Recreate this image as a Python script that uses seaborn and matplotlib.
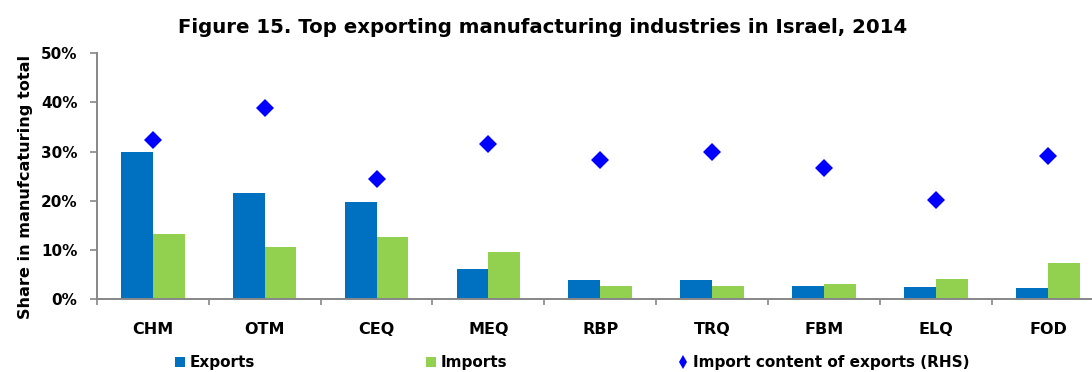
import numpy as np
import pandas as pd
import matplotlib
matplotlib.use("Agg")
import matplotlib.pyplot as plt
from matplotlib.patches import Patch
from matplotlib.lines import Line2D
from matplotlib.ticker import PercentFormatter, FixedLocator
import seaborn as sns

categories = ["CHM", "OTM", "CEQ", "MEQ", "RBP", "TRQ", "FBM", "ELQ", "FOD"]
exports = [29.9, 21.5, 19.7, 6.1, 3.9, 3.9, 2.8, 2.5, 2.3]
imports = [13.2, 10.7, 12.7, 9.7, 2.6, 2.6, 3.2, 4.1, 7.3]
import_content = [32.3, 38.9, 24.4, 31.5, 28.3, 30.0, 26.6, 20.2, 29.1]
series_names = ["Exports", "Imports", "Import content of exports (RHS)"]
yticks = [0, 10, 20, 30, 40, 50]

sns.set_theme(style="white")
plt.rcParams["font.family"] = ["DejaVu Sans"]
plt.rcParams["text.color"] = "black"

c_exp = "#0070C0"
c_imp = "#92D050"
c_dia = "#0000FF"
gray = "#878787"

bars = pd.DataFrame({
    "industry": categories * 2,
    "series": [series_names[0]] * len(categories) + [series_names[1]] * len(categories),
    "value": exports + imports,
})
points = pd.DataFrame({"industry": categories, "value": import_content})

fig = plt.figure(figsize=(10.92, 3.72), dpi=100)
# axes: left 96.7px, right ~1104px, top 53px, bottom 299.3px
ax = fig.add_axes([96.7 / 1092, 1 - 299.3 / 372, (1104.0 - 96.7) / 1092, (299.3 - 53) / 372])

sns.barplot(data=bars, x="industry", y="value", hue="series", order=categories,
            hue_order=series_names[:2], palette=[c_exp, c_imp], width=0.57,
            saturation=1, errorbar=None, ax=ax, legend=False, linewidth=0)
sns.pointplot(data=points, x="industry", y="value", order=categories,
              color=c_dia, markers="D", linestyles="none", errorbar=None,
              markersize=9, markeredgewidth=0, ax=ax)

ax.set_xlim(-0.5, len(categories) - 0.5)
ax.set_ylim(0, 50)
ax.yaxis.set_major_locator(FixedLocator(yticks))
ax.yaxis.set_major_formatter(PercentFormatter(decimals=0))

for s in ["top", "right"]:
    ax.spines[s].set_visible(False)
for s in ["left", "bottom"]:
    ax.spines[s].set_color(gray)
    ax.spines[s].set_linewidth(1.4)

ax.tick_params(axis="y", which="major", direction="out", length=5.3, width=1.2,
               color=gray, left=True, labelsize=11, pad=8.5, labelcolor="black")
ax.tick_params(axis="x", which="major", length=0, labelsize=11.5, pad=16, labelcolor="black")
ax.set_xticks(np.arange(-0.5, len(categories), 1.0), minor=True)
ax.tick_params(axis="x", which="minor", direction="out", length=4.5, width=1.2,
               color=gray, bottom=True)
for lab in ax.get_xticklabels() + ax.get_yticklabels():
    lab.set_fontweight("bold")

ax.set_xlabel("")
ax.set_ylabel("Share in manufcaturing total", fontsize=11.6, fontweight="bold", color="black")
ax.yaxis.set_label_coords(-0.0635, 0.458)

fig.text(543 / 1092, 1 - 33 / 372, "Figure 15. Top exporting manufacturing industries in Israel, 2014",
         ha="center", va="baseline", fontsize=14.2, fontweight="bold", color="black")

handles = [
    Patch(facecolor=c_exp, edgecolor="none"),
    Patch(facecolor=c_imp, edgecolor="none"),
    Line2D([], [], marker="d", color=c_dia, linestyle="none", markersize=7.6, markeredgewidth=0),
]
leg = fig.legend(handles, series_names, loc="center left", bbox_to_anchor=(175 / 1092, 1 - 362.5 / 372),
                 ncol=3, frameon=False, handlelength=0.65, handleheight=0.65, handletextpad=0.33,
                 columnspacing=11.15, borderpad=0, borderaxespad=0,
                 prop={"weight": "bold", "size": 11})
for t in leg.get_texts():
    t.set_color("black")

fig.savefig("out.png", dpi=100)
